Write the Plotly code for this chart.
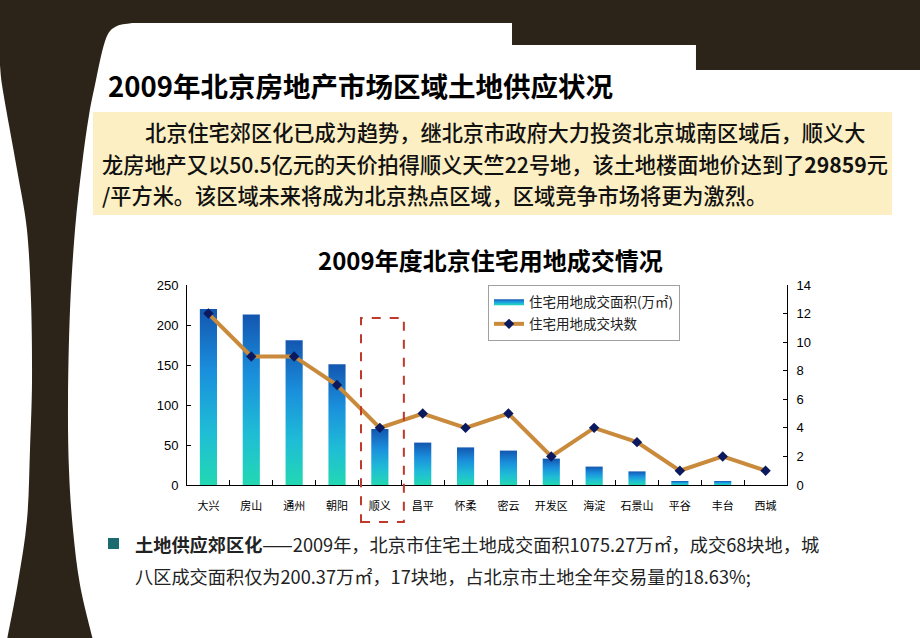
import plotly.graph_objects as go

# ---------------- data ----------------
categories = ["大兴", "房山", "通州", "朝阳", "顺义", "昌平", "怀柔", "密云",
              "开发区", "海淀", "石景山", "平谷", "丰台", "西城"]
area_values = [220, 213, 181, 151, 70, 53, 47, 43, 33, 23, 17, 5, 5, 0]   # 万㎡
plot_counts = [12, 9, 9, 7, 4, 5, 4, 5, 2, 4, 3, 1, 2, 1]                  # 块
left_ticks = [0, 50, 100, 150, 200, 250]
right_ticks = [0, 2, 4, 6, 8, 10, 12, 14]
area_name = "住宅用地成交面积(万㎡)"
count_name = "住宅用地成交块数"
highlight = "顺义"

slide_title = "2009年北京房地产市场区域土地供应状况"
box_lines = [
    "北京住宅郊区化已成为趋势，继北京市政府大力投资北京城南区域后，顺义大",
    "龙房地产又以50.5亿元的天价拍得顺义天竺22号地，该土地楼面地价达到了<b>29859</b>元",
    "/平方米。该区域未来将成为北京热点区域，区域竞争市场将更为激烈。",
]
chart_title = "2009年度北京住宅用地成交情况"
bullet_lines = [
    "<b>土地供应郊区化</b>——2009年，北京市住宅土地成交面积1075.27万㎡，成交68块地，城",
    "八区成交面积仅为200.37万㎡，17块地，占北京市土地全年交易量的18.63%;",
]

# ---------------- geometry helpers ----------------
W, H = 920, 638
PL, PR, PT, PB = 187, 787, 285, 485
CJK = "Noto Sans CJK SC"
NARROW = "Liberation Sans Narrow, Arial Narrow, Liberation Sans, sans-serif"
DARK = "#2c2419"


def X(px):
    return (px - PL) / (PR - PL)


def Y(py):
    return (PB - py) / (PB - PT)


def smooth(pts):
    s = ""
    n = len(pts)
    for i in range(n - 1):
        p0 = pts[i - 1] if i > 0 else pts[i]
        p1 = pts[i]
        p2 = pts[i + 1]
        p3 = pts[i + 2] if i + 2 < n else pts[i + 1]
        c1 = (p1[0] + (p2[0] - p0[0]) / 6, p1[1] + (p2[1] - p0[1]) / 6)
        c2 = (p2[0] - (p3[0] - p1[0]) / 6, p2[1] - (p3[1] - p1[1]) / 6)
        s += " C{:.4f},{:.4f} {:.4f},{:.4f} {:.4f},{:.4f}".format(
            X(c1[0]), Y(c1[1]), X(c2[0]), Y(c2[1]), X(p2[0]), Y(p2[1]))
    return s


def L(px, py):
    return " L{:.4f},{:.4f}".format(X(px), Y(py))


right_edge = [(132, 23), (117, 26), (108, 34), (102, 52), (96, 80), (89, 115),
              (82, 165), (75, 230), (70, 310), (68, 400), (69, 470), (73, 530),
              (80, 585), (93, 640)]
left_edge = [(7, 640), (18, 582), (27, 520), (30, 450), (32, 380), (31, 300),
             (27, 230), (18, 175), (9, 125), (2, 85), (0, 65)]

deco_path = "M{:.4f},{:.4f}".format(X(-2), Y(-2))
for p in [(922, -2), (922, 70), (696, 70), (696, 45), (512, 45), (512, 23), (132, 23)]:
    deco_path += L(*p)
deco_path += smooth(right_edge)
deco_path += L(*left_edge[0])
deco_path += smooth(left_edge)
deco_path += L(-2, 65) + L(-2, -2) + " Z"

fig = go.Figure()

# ---------------- bars (gradient filled) ----------------
half = 0.2
bar_scale = [[0, "#22d8b2"], [0.3, "#1fbdd6"], [0.65, "#1a8fdc"], [1, "#1356b0"]]
first = True
for i, v in enumerate(area_values):
    if v <= 0:
        continue
    fig.add_trace(go.Scatter(
        x=[i - half, i - half, i + half, i + half, i - half],
        y=[0, v, v, 0, 0],
        mode="lines", line=dict(width=0, color="#1a8fdc"),
        fill="toself",
        fillgradient=dict(type="vertical", colorscale=bar_scale, start=0, stop=v),
        name=area_name, legendgroup="area", showlegend=first,
        hoverinfo="skip",
    ))
    first = False

# ---------------- line ----------------
fig.add_trace(go.Scatter(
    x=list(range(len(categories))), y=plot_counts, yaxis="y2",
    mode="lines+markers", name=count_name, legendgroup="count",
    line=dict(color="#c98a3c", width=4),
    marker=dict(symbol="diamond", size=8, color="#0b1a5e"),
))

hi = categories.index(highlight)

shapes = [
    dict(type="path", path=deco_path, xref="paper", yref="paper",
         fillcolor=DARK, line=dict(width=0), layer="below"),
    dict(type="rect", xref="paper", yref="paper", x0=X(93), x1=X(892), y0=Y(112), y1=Y(215),
         fillcolor="#fcefc3", line=dict(width=0), layer="below"),
    dict(type="rect", xref="x", yref="paper", x0=hi - 0.44, x1=hi + 0.56, y0=Y(522), y1=Y(318),
         line=dict(color="#c0392b", width=2, dash="dash"), fillcolor="rgba(0,0,0,0)"),
    dict(type="rect", xref="paper", yref="paper", x0=X(108), x1=X(119), y0=Y(549), y1=Y(538),
         fillcolor="#1b6b6e", line=dict(width=0)),
]

annotations = [
    dict(text="<b>" + slide_title + "</b>", x=X(106), y=Y(85), xref="paper", yref="paper",
         xanchor="left", yanchor="middle", showarrow=False,
         font=dict(family=CJK, size=27.5, color="#000000")),
    dict(text="<b>" + chart_title + "</b>", x=X(490), y=Y(259), xref="paper", yref="paper",
         xanchor="center", yanchor="middle", showarrow=False,
         font=dict(family=CJK, size=24, color="#000000")),
]
box_x = [143, 100, 100]
box_y = [131, 163, 194]
for t, bx, by in zip(box_lines, box_x, box_y):
    annotations.append(dict(text=t, x=X(bx), y=Y(by), xref="paper", yref="paper",
                            xanchor="left", yanchor="middle", showarrow=False,
                            font=dict(family=CJK, size=21.2, color="#111111", weight=500)))
for t, by in zip(bullet_lines, [544, 576]):
    annotations.append(dict(text=t, x=X(133), y=Y(by), xref="paper", yref="paper",
                            xanchor="left", yanchor="middle", showarrow=False,
                            font=dict(family=CJK, size=18.2, color="#222222")))

fig.update_layout(
    width=W, height=H, autosize=False,
    margin=dict(l=PL, r=W - PR, t=PT, b=H - PB, pad=0),
    paper_bgcolor="#ffffff", plot_bgcolor="rgba(0,0,0,0)",
    showlegend=True,
    legend=dict(x=X(488), y=Y(285), xanchor="left", yanchor="top",
                bgcolor="#ffffff", bordercolor="#a0a0a0", borderwidth=1,
                font=dict(family=CJK, size=13.5, color="#222222"),
                itemwidth=30, tracegroupgap=2),
    xaxis=dict(range=[-0.5, len(categories) - 0.5], tickmode="array",
               tickvals=list(range(len(categories))), ticktext=categories,
               ticks="", showline=True, linecolor="#000000", linewidth=1,
               showgrid=False, zeroline=False, automargin=False,
               tickfont=dict(family=CJK, size=11, color="#000000"),
               ticklabelstandoff=11,
               minor=dict(tickmode="array", tickvals=[i + 0.5 for i in range(len(categories) - 1)],
                          ticks="inside", ticklen=5, tickcolor="#000000", showgrid=False)),
    yaxis=dict(range=[0, 250], tickmode="array", tickvals=left_ticks,
               ticks="inside", ticklen=4, tickcolor="#000000",
               showline=True, linecolor="#000000", linewidth=1,
               showgrid=False, zeroline=False, automargin=False,
               tickfont=dict(family=NARROW, size=13, color="#000000"),
               ticklabelstandoff=5),
    yaxis2=dict(range=[0, 14], tickmode="array", tickvals=right_ticks,
                overlaying="y", side="right",
                ticks="inside", ticklen=4, tickcolor="#000000",
                showline=True, linecolor="#000000", linewidth=1,
                showgrid=False, zeroline=False, automargin=False,
                tickfont=dict(family=NARROW, size=13, color="#000000"),
                ticklabelstandoff=6),
    shapes=shapes,
    annotations=annotations,
)

fig.write_html("out.html", config={"displayModeBar": False},
               post_script="document.body.style.margin='0';document.body.style.overflow='hidden';")
